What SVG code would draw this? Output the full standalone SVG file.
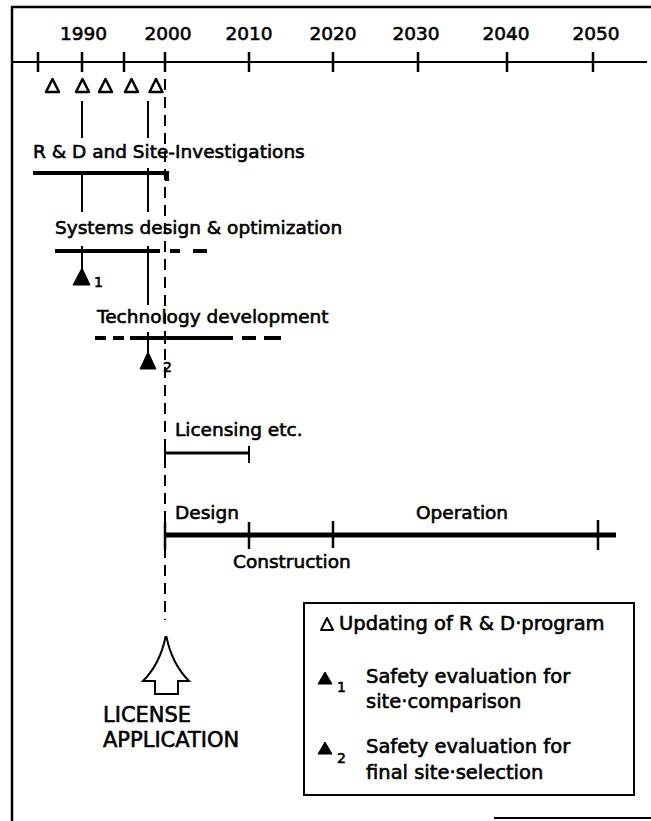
<svg xmlns="http://www.w3.org/2000/svg" width="651" height="821" viewBox="0 0 651 821">
<style>
  .t { font-family: "DejaVu Sans", "Liberation Sans", sans-serif; font-size: 18.5px; fill: #000; stroke: #000; stroke-width: 0.6; }
  .yr { text-anchor: middle; }
  .lg { font-size: 19.5px; }
  .big { font-size: 21px; }
  .sub { font-size: 14px; }
  .ln { stroke: #000; fill: none; stroke-linecap: butt; }
  .bar { stroke: #000; stroke-width: 4; fill: none; }
  .hollow { fill: #fff; stroke: #000; stroke-width: 2.5; stroke-linejoin: round; }
  .solid { fill: #000; stroke: #000; stroke-width: 1; stroke-linejoin: round; }
</style>
<rect width="651" height="821" fill="#fff"/>

<g id="frame">
  <line class="ln" x1="12" y1="7" x2="12" y2="821" stroke-width="2.5"/>
  <line class="ln" x1="11" y1="7" x2="651" y2="7" stroke-width="2.5"/>
  <line class="ln" x1="494" y1="818" x2="651" y2="818" stroke-width="2"/>
</g>

<g id="axis">
  <line class="ln" x1="12" y1="62" x2="647" y2="62" stroke-width="2"/>
  <g class="ln" stroke-width="2.5">
    <line x1="38" y1="52" x2="38" y2="72"/>
    <line x1="82" y1="52" x2="82" y2="72"/>
    <line x1="124" y1="52" x2="124" y2="72"/>
    <line x1="165" y1="52" x2="165" y2="72"/>
    <line x1="249" y1="52" x2="249" y2="72"/>
    <line x1="333" y1="52" x2="333" y2="72"/>
    <line x1="418" y1="52" x2="418" y2="72"/>
    <line x1="507" y1="52" x2="507" y2="72"/>
    <line x1="593" y1="52" x2="593" y2="72"/>
  </g>
  <text class="t yr" x="83.5" y="40">1990</text>
  <text class="t yr" x="168" y="40">2000</text>
  <text class="t yr" x="249" y="40">2010</text>
  <text class="t yr" x="333" y="40">2020</text>
  <text class="t yr" x="416" y="40">2030</text>
  <text class="t yr" x="506" y="40">2040</text>
  <text class="t yr" x="596" y="40">2050</text>
</g>

<g id="updates">
  <polygon class="hollow" points="52.5,79 59,92 46,92"/>
  <polygon class="hollow" points="82.5,79 89,92 76,92"/>
  <polygon class="hollow" points="105.5,79 112,92 99,92"/>
  <polygon class="hollow" points="131.5,79 138,92 125,92"/>
  <polygon class="hollow" points="156,79 162.5,92 149.5,92"/>
</g>

<g id="connectors">
  <line class="ln" x1="165" y1="79" x2="165" y2="620" stroke-width="2" stroke-dasharray="11 7"/>
  <g class="ln" stroke-width="2">
    <line x1="82" y1="101" x2="82" y2="138"/>
    <line x1="82" y1="173" x2="82" y2="212"/>
    <line x1="82" y1="246" x2="82" y2="270"/>
    <line x1="148" y1="101" x2="148" y2="138"/>
    <line x1="148" y1="168" x2="148" y2="212"/>
    <line x1="148" y1="246" x2="148" y2="305"/>
    <line x1="148" y1="332" x2="148" y2="353"/>
  </g>
</g>

<g id="rd">
  <text class="t" x="33" y="158">R &amp; D and Site-Investigations</text>
  <path class="bar" d="M33,173 H167 V181"/>
</g>

<g id="systems">
  <text class="t" x="55" y="234">Systems design &amp; optimization</text>
  <line class="bar" x1="55" y1="251" x2="160" y2="251"/>
  <line class="bar" x1="170" y1="251" x2="180" y2="251"/>
  <line class="bar" x1="193" y1="251" x2="207" y2="251"/>
  <polygon class="solid" points="82,268 90,285 73,285"/>
  <text class="t sub" x="94" y="287">1</text>
</g>

<g id="technology">
  <text class="t" x="97" y="323">Technology development</text>
  <line class="bar" x1="95" y1="338" x2="106" y2="338"/>
  <line class="bar" x1="113" y1="338" x2="124" y2="338"/>
  <line class="bar" x1="130" y1="338" x2="233" y2="338"/>
  <line class="bar" x1="242" y1="338" x2="256" y2="338"/>
  <line class="bar" x1="264" y1="338" x2="281" y2="338"/>
  <line class="ln" x1="165" y1="332" x2="165" y2="344" stroke-width="2"/>
  <polygon class="solid" points="148,352 156,369 140,369"/>
  <text class="t sub" x="163" y="372">2</text>
</g>

<g id="licensing">
  <text class="t" x="175" y="436">Licensing etc.</text>
  <line class="ln" x1="165" y1="453" x2="249" y2="453" stroke-width="3"/>
  <line class="ln" x1="249" y1="446" x2="249" y2="463" stroke-width="2"/>
  <line class="ln" x1="165" y1="444" x2="165" y2="462" stroke-width="2"/>
</g>

<g id="project">
  <text class="t" x="175" y="519">Design</text>
  <text class="t" x="416" y="519">Operation</text>
  <text class="t" x="233" y="568">Construction</text>
  <line class="ln" x1="165" y1="535" x2="616" y2="535" stroke-width="5"/>
  <g class="ln" stroke-width="2.5">
    <line x1="165" y1="522" x2="165" y2="550"/>
    <line x1="249" y1="522" x2="249" y2="549"/>
    <line x1="333" y1="521" x2="333" y2="548"/>
    <line x1="598" y1="520" x2="598" y2="550"/>
  </g>
</g>

<g id="license-application">
  <path d="M165.5,637 Q160,664 143,681 L155,681 L155,694 L178,694 L178,681 L189,681 Q172,664 166.5,637 Z" fill="#fff" stroke="#000" stroke-width="2" stroke-linejoin="miter"/>
  <text class="t big" x="103" y="722">LICENSE</text>
  <text class="t big" x="103" y="747">APPLICATION</text>
</g>

<g id="legend">
  <rect x="304" y="603" width="330" height="192" fill="none" stroke="#000" stroke-width="2"/>
  <polygon points="327,618 333,630 321,630" fill="#fff" stroke="#000" stroke-width="2" stroke-linejoin="round"/>
  <text class="t lg" x="339" y="630">Updating of R &amp; D·program</text>
  <polygon class="solid" points="325,672 332,684 318,684"/>
  <text class="t sub" x="337" y="692">1</text>
  <text class="t lg" x="366" y="683">Safety evaluation for</text>
  <text class="t lg" x="366" y="708">site·comparison</text>
  <polygon class="solid" points="325,742 332,754 318,754"/>
  <text class="t sub" x="337" y="763">2</text>
  <text class="t lg" x="366" y="753">Safety evaluation for</text>
  <text class="t lg" x="366" y="779">final site·selection</text>
</g>
</svg>
